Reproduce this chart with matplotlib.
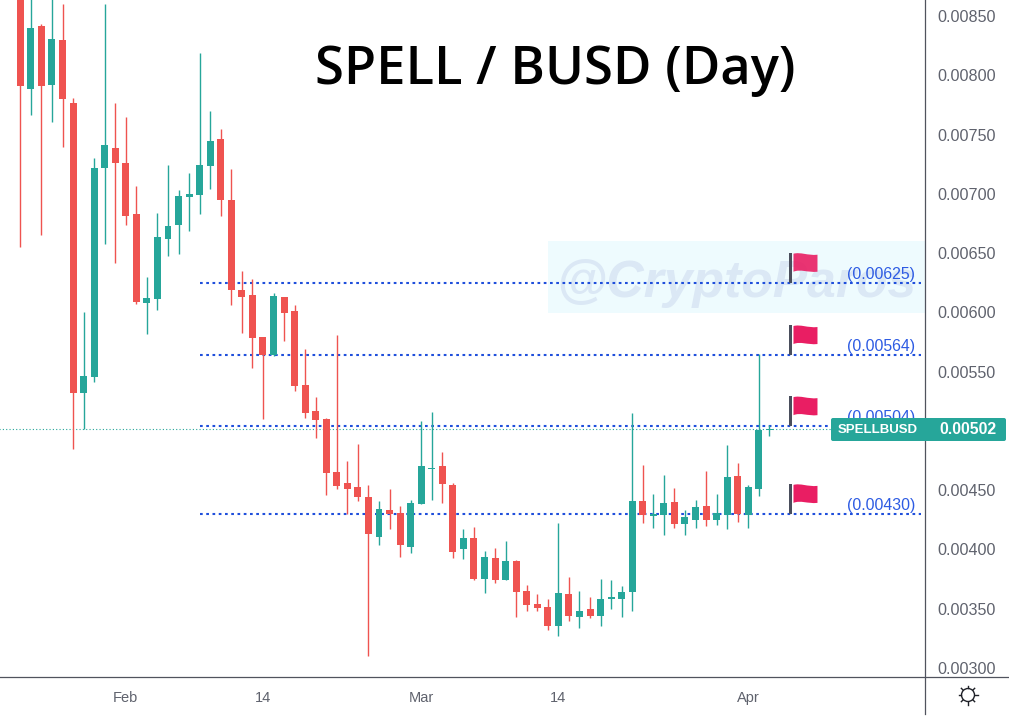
import matplotlib
matplotlib.use("Agg")
import matplotlib.pyplot as plt
from matplotlib.lines import Line2D
from matplotlib.patches import Rectangle, PathPatch, FancyBboxPatch, Circle
from matplotlib.path import Path
from matplotlib.transforms import Affine2D, IdentityTransform

# Daily candles, one per day starting Jan 22
opens = [
    0.008700, 0.007884, 0.008416, 0.007918, 0.008298, 0.007766, 0.005320, 0.005455, 0.007218,
    0.007387, 0.007260, 0.006830, 0.006079, 0.006113, 0.006619, 0.006737, 0.006973, 0.006990,
    0.007235, 0.007463, 0.006948, 0.006189, 0.006147, 0.005792, 0.005640, 0.006130, 0.006012,
    0.005387, 0.005168, 0.005101, 0.004653, 0.004561, 0.004527, 0.004443, 0.004105, 0.004333,
    0.004308, 0.004021, 0.004384, 0.004679, 0.004704, 0.004544, 0.004004, 0.004097, 0.003751,
    0.003928, 0.003742, 0.003903, 0.003650, 0.003540, 0.003515, 0.003354, 0.003624, 0.003430,
    0.003498, 0.003439, 0.003582, 0.003582, 0.003641, 0.004409, 0.004282, 0.004291, 0.004400,
    0.004215, 0.004249, 0.004367, 0.004249, 0.004291, 0.004620, 0.004291, 0.004510, 0.005008,
]
closes = [
    0.007910, 0.008399, 0.007910, 0.008306, 0.007800, 0.005320, 0.005463, 0.007218, 0.007412,
    0.007260, 0.006813, 0.006088, 0.006121, 0.006636, 0.006729, 0.006982, 0.006999, 0.007243,
    0.007446, 0.006948, 0.006189, 0.006130, 0.005784, 0.005640, 0.006138, 0.005995, 0.005379,
    0.005151, 0.005092, 0.004645, 0.004535, 0.004510, 0.004443, 0.004130, 0.004341, 0.004299,
    0.004038, 0.004392, 0.004704, 0.004687, 0.004552, 0.003979, 0.004097, 0.003751, 0.003936,
    0.003742, 0.003903, 0.003641, 0.003531, 0.003506, 0.003354, 0.003633, 0.003439, 0.003481,
    0.003439, 0.003582, 0.003599, 0.003641, 0.004409, 0.004291, 0.004299, 0.004392, 0.004215,
    0.004274, 0.004358, 0.004249, 0.004308, 0.004611, 0.004299, 0.004527, 0.005008, 0.005020,
]
highs = [
    0.008800, 0.008700, 0.008433, 0.008700, 0.008602, 0.007809, 0.006003, 0.007302, 0.008602,
    0.007766, 0.007648, 0.007066, 0.006298, 0.006838, 0.007243, 0.007032, 0.007176, 0.008188,
    0.007699, 0.007547, 0.007210, 0.006349, 0.006282, 0.005792, 0.006164, 0.006130, 0.006062,
    0.005691, 0.005286, 0.005109, 0.005809, 0.004746, 0.004890, 0.004544, 0.004409, 0.004510,
    0.004367, 0.004417, 0.005084, 0.005160, 0.004822, 0.004561, 0.004173, 0.004189, 0.003987,
    0.004012, 0.004071, 0.003911, 0.003700, 0.003624, 0.003582, 0.004223, 0.003768, 0.003650,
    0.003599, 0.003751, 0.003742, 0.003692, 0.005151, 0.004713, 0.004468, 0.004628, 0.004518,
    0.004333, 0.004417, 0.004662, 0.004468, 0.004881, 0.004729, 0.004544, 0.005649, 0.005050,
]
lows = [
    0.006552, 0.007665, 0.006653, 0.007606, 0.007395, 0.004847, 0.005016, 0.005413, 0.006577,
    0.006417, 0.006737, 0.006071, 0.005818, 0.006020, 0.006476, 0.006493, 0.006687, 0.006830,
    0.007041, 0.006813, 0.006062, 0.005826, 0.005531, 0.005101, 0.005632, 0.005759, 0.005337,
    0.005109, 0.004940, 0.004459, 0.004510, 0.004299, 0.004409, 0.003101, 0.004038, 0.004173,
    0.003936, 0.003970, 0.004384, 0.004417, 0.004392, 0.003928, 0.003920, 0.003742, 0.003633,
    0.003717, 0.003742, 0.003430, 0.003481, 0.003481, 0.003321, 0.003270, 0.003396, 0.003337,
    0.003422, 0.003354, 0.003498, 0.003430, 0.003481, 0.004223, 0.004181, 0.004122, 0.004181,
    0.004122, 0.004181, 0.004198, 0.004206, 0.004173, 0.004232, 0.004181, 0.004451, 0.004957,
]

levels = [0.00625, 0.00564, 0.00504, 0.00430]
level_labels = ["(0.00625)", "(0.00564)", "(0.00504)", "(0.00430)"]
last_price = 0.00502

# the last price tag takes the place of the 0.00500 label
price_ticks = [0.0030, 0.0035, 0.0040, 0.0045, 0.0055,
               0.0060, 0.0065, 0.0070, 0.0075, 0.0080, 0.0085]
date_ticks = [10, 23, 38, 51, 69]
date_labels = ["Feb", "14", "Mar", "14", "Apr"]

RED = "#ef5350"
GREEN = "#26a69a"
BLUE = "#1f4fdc"
GREY = "#5f626d"
FRAME = "#50535e"
PINK = "#e91e63"

W, H = 1009, 719
fig = plt.figure(figsize=(W / 100, H / 100), dpi=100, facecolor="white")
plt.rcParams["font.family"] = ["Liberation Sans", "DejaVu Sans"]

# chart pane stops at the price scale on the right and the time scale below
ax = fig.add_axes([0, (H - 676.7) / H, 925 / W, 676.7 / H])
ax.set_xlim(-1.924, 85.75)
ax.set_ylim(0.0029266, 0.008635)
for side in ["top", "left", "right", "bottom"]:
    ax.spines[side].set_visible(False)

# shaded box and watermark
ax.add_patch(Rectangle((50.0, 0.005995), 36, 0.000610, facecolor="#eefbfe",
                       edgecolor="none", zorder=1))
ax.text(556, H - 297, "@CryptoParos", transform=IdentityTransform(), fontsize=37.2,
        fontstyle="italic", fontweight="bold", color="#dbe8f5", va="baseline", ha="left", zorder=1.5)

ax.hlines(last_price, -2, 86, color=GREEN, linewidth=0.8, linestyles=(0, (1, 2)), zorder=2)
for level in levels:
    ax.hlines(level, 17, 85.4, color=BLUE, linewidth=1.5, linestyles=(0, (1.3, 1.7)), zorder=2)

# candles
xs = list(range(len(opens)))
colors = [GREEN if c >= o else RED for o, c in zip(opens, closes)]
ax.vlines(xs, lows, highs, colors=colors, linewidth=1.0, zorder=3)
bottoms = [min(o, c) for o, c in zip(opens, closes)]
heights = [abs(o - c) for o, c in zip(opens, closes)]
ax.bar(xs, heights, bottom=bottoms, width=0.66, color=colors, linewidth=0, zorder=4)

# level labels and flags are placed in pixels next to their anchor
flag_x = 73
flag_path = Path(
    [(3, 29), (10, 31), (17, 27), (27, 28), (27, 11), (17, 10), (10, 14), (3, 11), (3, 29)],
    [Path.MOVETO, Path.CURVE4, Path.CURVE4, Path.CURVE4, Path.LINETO,
     Path.CURVE4, Path.CURVE4, Path.CURVE4, Path.CLOSEPOLY],
)
fig.canvas.draw()
for level, label in zip(levels, level_labels):
    ax.text(84.8, level + 0.00001, label, color="#2d5be3", fontsize=11.4, ha="right", va="bottom", zorder=5)
    px, py = ax.transData.transform((flag_x, level))
    anchor = Affine2D().translate(px, py)
    ax.add_patch(Rectangle((-1.5, 0), 3, 30, facecolor="#4a4e5c", edgecolor="none",
                           transform=anchor, zorder=5))
    ax.add_patch(PathPatch(flag_path, facecolor=PINK, edgecolor="none",
                           alpha=0.9 if level == levels[0] else 1.0, transform=anchor, zorder=5))

ax.text(555.5, H - 84, "SPELL / BUSD (Day)", transform=IdentityTransform(), fontsize=37.8,
        family="Open Sans", fontweight="semibold", color="black", ha="center", va="baseline", zorder=6)

# scales
ax.yaxis.tick_right()
ax.set_yticks(price_ticks)
ax.set_yticklabels(["%.5f" % p for p in price_ticks])
ax.set_xticks(date_ticks)
ax.set_xticklabels(date_labels)
ax.tick_params(axis="y", length=0, pad=9.0, labelsize=11.6, labelcolor=GREY)
ax.tick_params(axis="x", length=0, pad=10, labelsize=10.5, labelcolor=GREY)

fig.add_artist(Line2D([0, W], [H - 676.7, H - 676.7], color=FRAME, linewidth=0.9,
                      transform=IdentityTransform()))
fig.add_artist(Line2D([925, 925], [H - 714, H], color=FRAME, linewidth=0.9,
                      transform=IdentityTransform()))

# last price tag on the scale
fig.add_artist(FancyBboxPatch((833, H - 439), 171, 19, boxstyle="round,pad=2,rounding_size=2",
                              facecolor=GREEN, edgecolor="none", transform=IdentityTransform(),
                              zorder=8))
fig.text(838 / W, (H - 430) / H, "SPELLBUSD", color="white", fontsize=9.5, fontweight="bold",
         ha="left", va="center", zorder=9)
fig.text(996 / W, (H - 430) / H, "%.5f" % last_price, color="white", fontsize=11.3,
         fontweight="bold", ha="right", va="center", zorder=9)

# sun icon for the theme switch
sun_x, sun_y = 968, H - 695
fig.add_artist(Circle((sun_x, sun_y), 6.5, facecolor="none", edgecolor="#1f2128", linewidth=1.0,
                      transform=IdentityTransform()))
for dx, dy in [(0, 1), (0, -1), (1, 0), (-1, 0), (0.7, 0.7), (-0.7, 0.7), (0.7, -0.7), (-0.7, -0.7)]:
    fig.add_artist(Line2D([sun_x + dx * 7, sun_x + dx * 9.5], [sun_y + dy * 7, sun_y + dy * 9.5],
                          color="#1f2128", linewidth=1.0, transform=IdentityTransform()))

fig.savefig("out.png", dpi=100, facecolor="white")
